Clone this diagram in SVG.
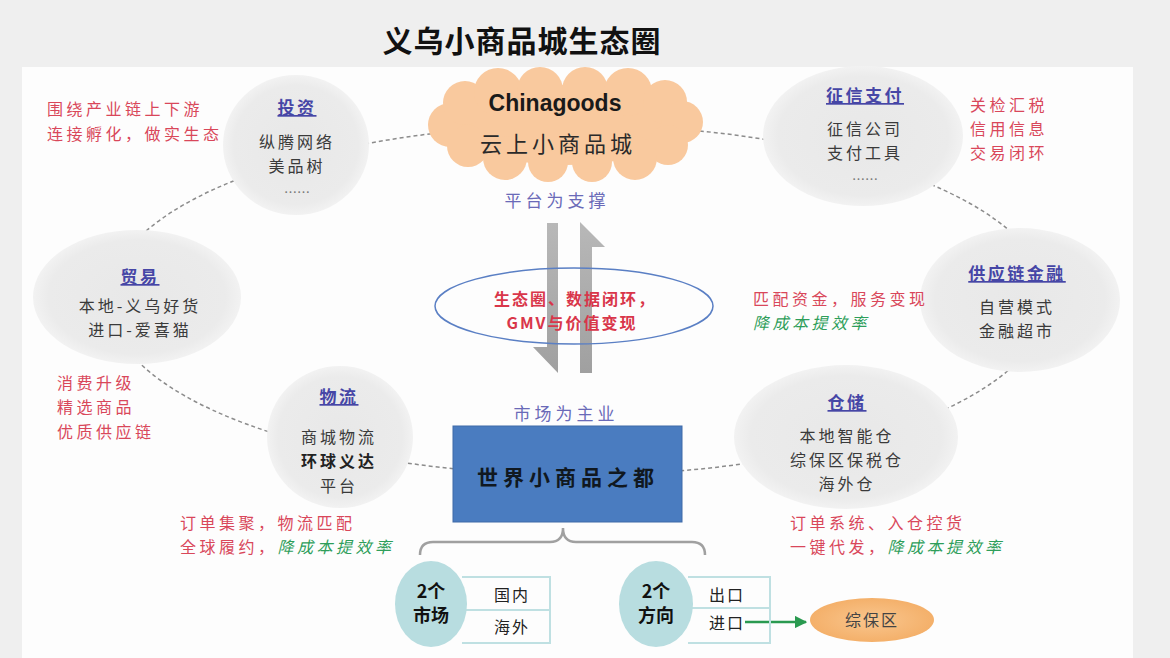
<svg xmlns="http://www.w3.org/2000/svg" width="1170" height="658" viewBox="0 0 1170 658">
<style>
text{font-family:"Noto Sans CJK SC","Liberation Sans",sans-serif;}
.t{font-size:16px;fill:#3a3a3a;text-anchor:middle;letter-spacing:3px;}
.h{font-size:17px;fill:#4646a6;text-anchor:middle;text-decoration:underline;font-weight:bold;letter-spacing:2.5px;}
.r{font-size:16px;fill:#d9475a;letter-spacing:3.5px;}
.g{fill:#2e9e5a;font-style:italic;}
.b{font-size:17px;fill:#6a6ab8;text-anchor:middle;letter-spacing:4px;}
.node{fill:url(#gray);}
.dots{font-size:13px;fill:#777;text-anchor:middle;}
.k{font-size:18px;fill:#111;text-anchor:middle;font-weight:bold;}
.c{font-size:16px;fill:#222;text-anchor:middle;letter-spacing:2px;}
.tb{fill:none;stroke:#bfe0e2;stroke-width:2;}
</style>
<defs>
<radialGradient id="gray" cx="50%" cy="50%" r="50%">
<stop offset="0" stop-color="#e8e8e8"/>
<stop offset="0.85" stop-color="#ebebeb"/>
<stop offset="1" stop-color="#f2f2f2"/>
</radialGradient>
<linearGradient id="arr" x1="0" y1="0" x2="0" y2="1">
<stop offset="0" stop-color="#b8b8b8"/>
<stop offset="1" stop-color="#a0a0a0"/>
</linearGradient>
<radialGradient id="orange" cx="50%" cy="50%" r="50%">
<stop offset="0" stop-color="#f9c68e"/>
<stop offset="1" stop-color="#f4b06a"/>
</radialGradient>
<marker id="ga" viewBox="0 0 10 10" refX="9" refY="5" markerWidth="5" markerHeight="5" orient="auto">
<path d="M0,0 L10,5 L0,10 z" fill="#2a9a50"/>
</marker>
</defs>
<rect width="1170" height="658" fill="#efefef"/>
<rect x="22" y="67" width="1111" height="591" fill="#fdfdfd"/>
<text x="522" y="52" style="font-size:30px;font-weight:bold;fill:#111;text-anchor:middle;letter-spacing:1px">义乌小商品城生态圈</text>

<g id="connectors">
<ellipse cx="578" cy="300" rx="470" ry="175" fill="none" stroke="#8c8c8c" stroke-width="1.5" stroke-dasharray="4 3"/>
<polygon points="547,223 558,223 558,373 533,347 547,347" fill="url(#arr)"/>
<polygon points="580,222 605,247 592,247 592,373 580,373" fill="url(#arr)"/>
<path d="M420,555 Q420,542 433,542 L550,542 Q563,542 563,528 Q563,542 576,542 L692,542 Q705,542 705,555" fill="none" stroke="#a0a0a0" stroke-width="2.5"/>
<line x1="745" y1="622" x2="806" y2="622" stroke="#2a9a50" stroke-width="2.5" marker-end="url(#ga)"/>
</g>

<g id="cloud" fill="#f9c99e">
<ellipse cx="566" cy="125" rx="112" ry="40"/>
<circle cx="450" cy="125" r="22"/>
<circle cx="465" cy="103" r="22"/>
<circle cx="498" cy="92" r="24"/>
<circle cx="540" cy="90" r="23"/>
<circle cx="585" cy="90" r="23"/>
<circle cx="628" cy="92" r="24"/>
<circle cx="665" cy="102" r="22"/>
<circle cx="682" cy="122" r="21"/>
<circle cx="668" cy="145" r="20"/>
<circle cx="635" cy="158" r="22"/>
<circle cx="592" cy="162" r="20"/>
<circle cx="548" cy="162" r="20"/>
<circle cx="505" cy="158" r="22"/>
<circle cx="468" cy="146" r="21"/>
<text x="555" y="111" style="font-family:'Liberation Sans',sans-serif;font-size:23px;font-weight:bold;fill:#1a1a1a;text-anchor:middle">Chinagoods</text>
<text x="558" y="152" style="font-size:22px;fill:#2a2a2a;text-anchor:middle;letter-spacing:4px">云上小商品城</text>
</g>
<text x="557" y="207" class="b">平台为支撑</text>

<g id="invest">
<ellipse cx="296" cy="145" rx="73" ry="70" class="node"/>
<text x="297" y="114" class="h">投资</text>
<text x="297" y="148" class="t">纵腾网络</text>
<text x="297" y="172" class="t">美品树</text>
<text x="297" y="197" class="dots">……</text>
<text x="47" y="115" class="r">围绕产业链上下游</text>
<text x="47" y="140" class="r">连接孵化，做实生态</text>
</g>

<g id="credit">
<ellipse cx="863" cy="136" rx="100" ry="70" class="node"/>
<text x="865" y="102" class="h">征信支付</text>
<text x="865" y="135" class="t">征信公司</text>
<text x="865" y="159" class="t">支付工具</text>
<text x="865" y="184" class="dots">……</text>
<text x="970" y="111" class="r">关检汇税</text>
<text x="970" y="135" class="r">信用信息</text>
<text x="970" y="159" class="r">交易闭环</text>
</g>

<g id="scf">
<ellipse cx="1020" cy="300" rx="100" ry="72" class="node"/>
<text x="1017" y="280" class="h">供应链金融</text>
<text x="1017" y="313" class="t">自营模式</text>
<text x="1017" y="337" class="t">金融超市</text>
<text x="753" y="305" class="r">匹配资金，服务变现</text>
<text x="753" y="329" class="r g">降成本提效率</text>
</g>

<g id="trade">
<ellipse cx="137" cy="297" rx="104" ry="67" class="node"/>
<text x="140" y="283" class="h">贸易</text>
<text x="140" y="312" class="t">本地-义乌好货</text>
<text x="140" y="336" class="t">进口-爱喜猫</text>
<text x="57" y="389" class="r">消费升级</text>
<text x="57" y="413" class="r">精选商品</text>
<text x="57" y="438" class="r">优质供应链</text>
</g>

<g id="logistics">
<ellipse cx="340" cy="437" rx="73" ry="71" class="node"/>
<text x="339" y="403" class="h">物流</text>
<text x="339" y="443" class="t">商城物流</text>
<text x="339" y="467" class="t" style="fill:#222;font-weight:bold">环球义达</text>
<text x="339" y="492" class="t">平台</text>
<text x="180" y="529" class="r">订单集聚，物流匹配</text>
<text x="180" y="553" class="r">全球履约，<tspan class="g">降成本提效率</tspan></text>
</g>

<g id="storage">
<ellipse cx="846" cy="437" rx="112" ry="72" class="node"/>
<text x="847" y="409" class="h">仓储</text>
<text x="847" y="442" class="t">本地智能仓</text>
<text x="847" y="466" class="t">综保区保税仓</text>
<text x="847" y="490" class="t">海外仓</text>
<text x="790" y="529" class="r">订单系统、入仓控货</text>
<text x="790" y="553" class="r">一键代发，<tspan class="g">降成本提效率</tspan></text>
</g>

<g id="loop">
<ellipse cx="574" cy="306" rx="139" ry="38" fill="none" stroke="#5a7fc4" stroke-width="1.5"/>
<text x="575" y="305" style="font-size:16px;font-weight:bold;fill:#d9364a;text-anchor:middle;letter-spacing:2px">生态圈、数据闭环，</text>
<text x="572" y="329" style="font-size:16px;font-weight:bold;fill:#d9364a;text-anchor:middle;letter-spacing:2px">GMV与价值变现</text>
</g>

<g id="market">
<text x="566" y="420" class="b">市场为主业</text>
<rect x="453" y="426" width="229" height="96" fill="#4a7cc0" stroke="#3f6aa8" stroke-width="1"/>
<text x="568" y="485" style="font-size:21px;font-weight:bold;fill:#101820;text-anchor:middle;letter-spacing:5px">世界小商品之都</text>
</g>

<g id="two-markets">
<path d="M462,577 H550 V643 H462 M462,610 H550" class="tb"/>
<ellipse cx="431" cy="604" rx="36" ry="43" fill="#b8dde0"/>
<text x="431" y="598" class="k">2个</text>
<text x="431" y="622" class="k">市场</text>
<text x="512" y="601" class="c">国内</text>
<text x="512" y="633" class="c">海外</text>
</g>

<g id="two-directions">
<path d="M688,577 H770 V643 H688 M688,608 H770" class="tb"/>
<ellipse cx="656" cy="604" rx="37" ry="43" fill="#b8dde0"/>
<text x="656" y="598" class="k">2个</text>
<text x="656" y="622" class="k">方向</text>
<text x="727" y="601" class="c">出口</text>
<text x="727" y="629" class="c">进口</text>
</g>

<g id="ftz">
<ellipse cx="872" cy="620" rx="62" ry="22" fill="url(#orange)"/>
<text x="872" y="626" style="font-size:16px;fill:#444;text-anchor:middle;letter-spacing:2px">综保区</text>
</g>
</svg>
